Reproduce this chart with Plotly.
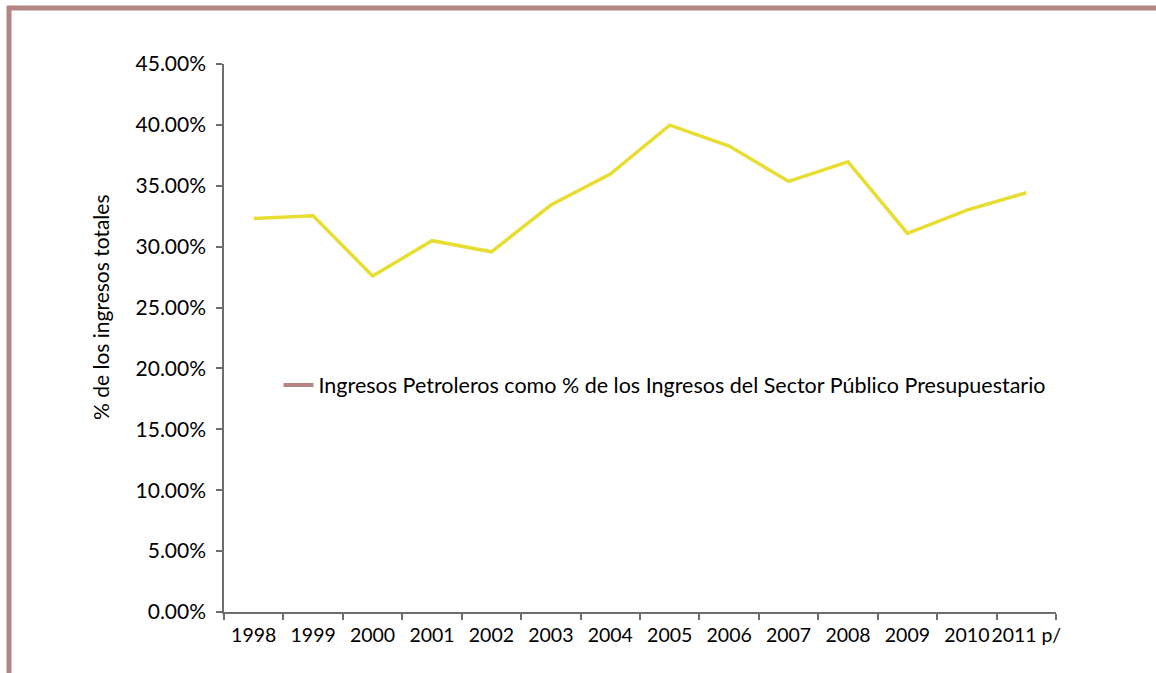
import plotly.graph_objects as go

# Oil revenue share of budgetary public-sector revenue, by year
years = ["1998", "1999", "2000", "2001", "2002", "2003", "2004",
         "2005", "2006", "2007", "2008", "2009", "2010", "2011 p/"]
oil_share = [0.3232, 0.3254, 0.2759, 0.3049, 0.2958, 0.3342, 0.3596,
             0.3998, 0.3826, 0.3536, 0.3697, 0.3109, 0.3300, 0.3443]
y_ticks = [0.00, 0.05, 0.10, 0.15, 0.20, 0.25, 0.30, 0.35, 0.40, 0.45]

series_name = ("Ingresos Petroleros como % de los Ingresos del Sector "
               "Público Presupuestario")
line_color = "#E8DD32"
legend_color = "#B58585"
frame_color = "#B58585"
axis_color = "#6F6E68"
font_family = "Lato, 'Open Sans', sans-serif"
fs = 21

W, H = 1156, 673
left, right, top, bottom = 224, 100, 64, 61
pw, ph = W - left - right, H - top - bottom


def px_x(x):
    return (x - left) / pw


def px_y(y):
    return (H - bottom - y) / ph


fig = go.Figure()

fig.add_trace(go.Scatter(
    x=years, y=oil_share, mode="lines",
    line=dict(color=line_color, width=3.5),
    showlegend=False, hoverinfo="x+y",
))

# Legend entry (drawn with the legend key colour)
fig.add_trace(go.Scatter(
    x=[None], y=[None], mode="lines", name=series_name,
    line=dict(color=legend_color, width=4),
))

fig.update_layout(
    width=W, height=H,
    margin=dict(l=left, r=right, t=top, b=bottom),
    paper_bgcolor="white", plot_bgcolor="white",
    font=dict(family=font_family, size=fs, color="#000000"),
    showlegend=True,
    legend=dict(
        x=px_x(278.5), y=px_y(385),
        xanchor="left", yanchor="middle",
        bgcolor="rgba(0,0,0,0)",
        font=dict(size=21.5, family=font_family),
        itemwidth=30,
    ),
    xaxis=dict(
        type="category",
        range=[-0.5, len(years) - 0.5],
        showline=True, linecolor=axis_color, linewidth=1.5,
        ticks="outside", tickson="boundaries", ticklen=6,
        tickcolor=axis_color, tickwidth=1.5,
        showgrid=False, zeroline=False,
        tickangle=0, ticklabelstandoff=5,
        tickfont=dict(size=19.5),
    ),
    yaxis=dict(
        range=[0, 0.45],
        tickvals=y_ticks, tickformat=".2%",
        showline=True, linecolor=axis_color, linewidth=1.5,
        ticks="outside", ticklen=6, tickcolor=axis_color, tickwidth=1.5,
        showgrid=False, zeroline=False,
        ticklabelstandoff=6,
        tickfont=dict(size=fs),
    ),
)

# Y-axis title
fig.add_annotation(
    text="% de los ingresos totales",
    xref="paper", yref="paper",
    x=px_x(100), y=px_y(307),
    textangle=-90, showarrow=False,
    font=dict(size=fs, family=font_family),
    xanchor="center", yanchor="middle",
)

# Outer frame (left and top edges)
fig.add_shape(type="line", xref="paper", yref="paper",
              x0=px_x(9), x1=px_x(9), y0=px_y(6), y1=px_y(H + 5),
              line=dict(color=frame_color, width=5))
fig.add_shape(type="line", xref="paper", yref="paper",
              x0=px_x(7), x1=px_x(W + 5), y0=px_y(8), y1=px_y(8),
              line=dict(color=frame_color, width=5))

fig.write_html("out.html")
